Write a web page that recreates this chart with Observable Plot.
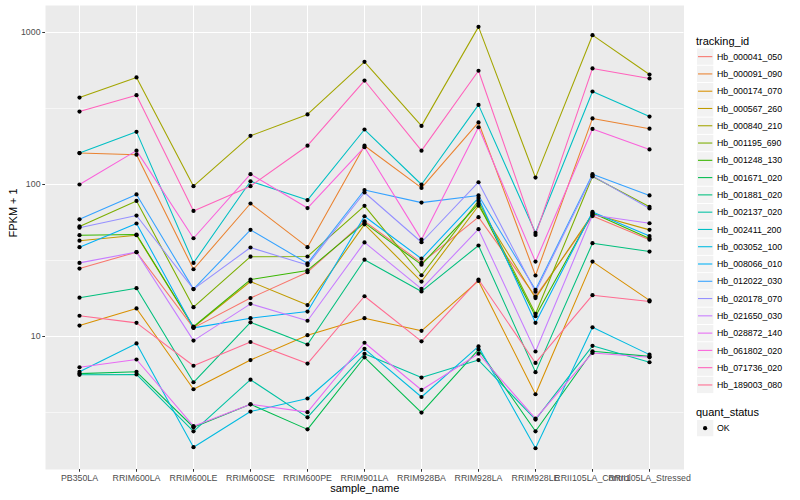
<!DOCTYPE html>
<html>
<head>
<meta charset="utf-8">
<script src="https://cdn.jsdelivr.net/npm/d3@7"></script>
<script src="https://cdn.jsdelivr.net/npm/@observablehq/plot@0.6"></script>
<style>
  html, body { margin: 0; padding: 0; background: white; }
  #wrap { position: relative; width: 800px; height: 500px; font-family: "Liberation Sans", Arial, sans-serif; }
  #legend { position: absolute; left: 0; top: 0; }
</style>
</head>
<body>
<div id="wrap"><div id="chart"></div><svg id="legend" width="800" height="500"></svg></div>
<script>
const samples = ["PB350LA","RRIM600LA","RRIM600LE","RRIM600SE","RRIM600PE","RRIM901LA","RRIM928BA","RRIM928LA","RRIM928LE","RRII105LA_Control","RRII105LA_Stressed"];
const trackingIds = ["Hb_000041_050","Hb_000091_090","Hb_000174_070","Hb_000567_260","Hb_000840_210","Hb_001195_690","Hb_001248_130","Hb_001671_020","Hb_001881_020","Hb_002137_020","Hb_002411_200","Hb_003052_100","Hb_008066_010","Hb_012022_030","Hb_020178_070","Hb_021650_030","Hb_028872_140","Hb_061802_020","Hb_071736_020","Hb_189003_080"];

const Hb_000041_050 = [28, 35.9, 11.4, 17.9, 26.5, 57.3, 30.5, 61, 18.3, 62, 43.3];
const Hb_000091_090 = [161, 157, 27.7, 75, 38.7, 180, 95, 256, 25.2, 272, 233];
const Hb_000174_070 = [11.8, 15.3, 4.5, 7.0, 10.2, 13.2, 10.9, 23.2, 4.17, 31.1, 17.3];
const Hb_000567_260 = [42.7, 46.4, 11.5, 23.0, 16.1, 54.7, 23.0, 72.5, 17.9, 64, 50.3];
const Hb_000840_210 = [373, 506, 97.5, 209, 289, 641, 243, 1089, 111, 960, 529];
const Hb_001195_690 = [53, 78, 15.6, 33.5, 33.6, 72.4, 25.3, 78, 14.1, 113, 71.3];
const Hb_001248_130 = [46.4, 46.9, 11.6, 23.7, 27.2, 55.9, 29.7, 74.6, 13.6, 65, 44.2];
const Hb_001671_020 = [5.7, 5.86, 2.53, 3.58, 2.45, 7.3, 3.16, 8.2, 2.38, 8.0, 7.4];
const Hb_001881_020 = [18, 20.8, 5.0, 12.4, 8.86, 32, 19.8, 39.7, 5.83, 41.1, 36.2];
const Hb_002137_020 = [5.6, 5.63, 2.38, 5.2, 2.94, 7.7, 5.37, 7.0, 2.84, 8.68, 6.77];
const Hb_002411_200 = [161, 222, 30.5, 105, 79, 230, 100, 334, 48.1, 409, 280];
const Hb_003052_100 = [5.86, 9.0, 1.87, 3.21, 3.91, 8.3, 4.0, 8.6, 1.84, 11.5, 7.6];
const Hb_008066_010 = [38.7, 55.4, 11.4, 13.2, 14.6, 61.8, 32.5, 81.6, 12.3, 66, 45.8];
const Hb_012022_030 = [59, 86, 20.5, 50.3, 30.3, 92, 76, 84.7, 20.3, 117, 84.7];
const Hb_020178_070 = [52, 62.5, 20.5, 38.5, 29.5, 88.6, 41.7, 103.5, 19.7, 114, 69.5];
const Hb_021650_030 = [30.5, 35.9, 9.4, 16.4, 12.7, 41.6, 20.6, 50.8, 7.97, 63, 55.6];
const Hb_028872_140 = [6.28, 7.06, 2.57, 3.58, 3.18, 9.1, 4.45, 7.7, 2.88, 7.8, 7.3];
const Hb_061802_020 = [100, 167, 44.3, 117, 70, 176, 43.4, 238, 31.1, 232, 170];
const Hb_071736_020 = [302, 387, 67, 97.5, 180, 483, 167, 560, 46.6, 580, 498];
const Hb_189003_080 = [13.7, 12.3, 6.42, 9.2, 6.64, 18.4, 9.3, 23.7, 6.7, 18.7, 17.0];

const yMajorTicks = [10, 100, 1000];
const yMinorTicks = [3.1623, 31.623, 316.23];
const quantStatus = ["OK"];

const seriesValues = [Hb_000041_050, Hb_000091_090, Hb_000174_070, Hb_000567_260, Hb_000840_210, Hb_001195_690, Hb_001248_130, Hb_001671_020, Hb_001881_020, Hb_002137_020, Hb_002411_200, Hb_003052_100, Hb_008066_010, Hb_012022_030, Hb_020178_070, Hb_021650_030, Hb_028872_140, Hb_061802_020, Hb_071736_020, Hb_189003_080];

const palette = ["#F8766D","#EA8331","#D89000","#C09B00","#A3A500","#7CAE00","#39B600","#00BB4E","#00BF7D","#00C1A3","#00BFC4","#00BAE0","#00B0F6","#35A2FF","#9590FF","#C77CFF","#E76BF3","#FA62DB","#FF62BC","#FF6C91"];

const rows = [];
trackingIds.forEach((id, i) => {
  seriesValues[i].forEach((v, j) => rows.push({id, sample: samples[j], value: v, status: "OK"}));
});

const font = "Liberation Sans, Arial, sans-serif";
const chart = Plot.plot({
  width: 690, height: 500,
  marginLeft: 45, marginRight: 6.5, marginTop: 5, marginBottom: 31,
  style: {fontFamily: font, background: "white", overflow: "visible"},
  x: {type: "point", domain: samples, padding: 0.6, label: null},
  y: {type: "log", domain: [1.334, 1505], label: null},
  color: {domain: trackingIds, range: palette},
  marks: [
    Plot.frame({fill: "#EBEBEB", stroke: null}),
    Plot.ruleY(yMinorTicks, {stroke: "white", strokeWidth: 0.55}),
    Plot.ruleY(yMajorTicks, {stroke: "white", strokeWidth: 1.07}),
    Plot.ruleX(samples, {stroke: "white", strokeWidth: 1.07}),
    Plot.line(rows, {x: "sample", y: "value", stroke: "id", strokeWidth: 1.07}),
    Plot.dot(rows, {x: "sample", y: "value", r: 2.1, fill: "black", stroke: null}),
    Plot.axisX({tickSize: 2.75, tickPadding: 2.2, fontSize: 8.8, fill: "#4D4D4D", stroke: "#333333", label: null}),
    Plot.axisY({ticks: yMajorTicks, tickFormat: d => String(d), tickSize: 2.75, tickPadding: 2.2, fontSize: 8.8, fill: "#4D4D4D", stroke: "#333333", label: null}),
    Plot.text(["FPKM + 1"], {frameAnchor: "left", dx: -32, rotate: -90, fontSize: 11, fill: "black"}),
    Plot.text(["sample_name"], {frameAnchor: "bottom", dy: 22, fontSize: 11, fill: "black"})
  ]
});
document.getElementById("chart").appendChild(chart);

// legend
const lg = d3.select("#legend").style("font-family", font);
lg.append("text").attr("x", 696).attr("y", 44.5).attr("font-size", 11).attr("fill", "black").text("tracking_id");
const keyTop = 48, keyH = 17.28;
trackingIds.forEach((id, i) => {
  const y0 = keyTop + i * keyH;
  lg.append("rect").attr("x", 697).attr("y", y0 + 0.5).attr("width", 16.3).attr("height", keyH - 1).attr("fill", "#F2F2F2");
  lg.append("line").attr("x1", 698).attr("x2", 712.3).attr("y1", y0 + keyH / 2).attr("y2", y0 + keyH / 2)
    .attr("stroke", palette[i]).attr("stroke-width", 1.07);
  lg.append("text").attr("x", 717).attr("y", y0 + keyH / 2 + 3.1).attr("font-size", 8.8).attr("fill", "black").text(id);
});
lg.append("text").attr("x", 696).attr("y", 415.5).attr("font-size", 11).attr("fill", "black").text("quant_status");
quantStatus.forEach((s, i) => {
  const y0 = 419.5 + i * keyH;
  lg.append("rect").attr("x", 697).attr("y", y0 + 0.5).attr("width", 16.3).attr("height", keyH - 1).attr("fill", "#F2F2F2");
  lg.append("circle").attr("cx", 705.1).attr("cy", y0 + keyH / 2).attr("r", 2.1).attr("fill", "black");
  lg.append("text").attr("x", 717).attr("y", y0 + keyH / 2 + 3.1).attr("font-size", 8.8).attr("fill", "black").text(s);
});
</script>
</body>
</html>
